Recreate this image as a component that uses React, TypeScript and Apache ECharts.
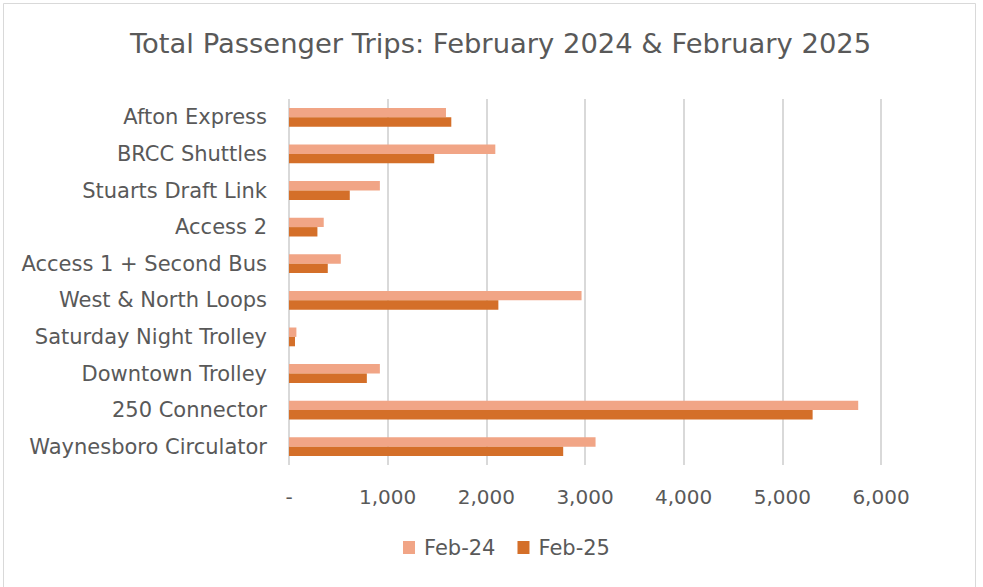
import React, { useEffect, useRef } from "react";
import * as echarts from "echarts";

const categories = [
  "Afton Express",
  "BRCC Shuttles",
  "Stuarts Draft Link",
  "Access 2",
  "Access 1 + Second Bus",
  "West & North Loops",
  "Saturday Night Trolley",
  "Downtown Trolley",
  "250 Connector",
  "Waynesboro Circulator",
];
const feb24 = [1591, 2091, 921, 352, 525, 2965, 75, 921, 5769, 3107];
const feb25 = [1645, 1472, 616, 288, 393, 2122, 61, 789, 5307, 2779];
const seriesNames = ["Feb-24", "Feb-25"];

export default function App() {
  const ref = useRef<HTMLDivElement>(null);
  useEffect(() => {
    if (!ref.current) return;
    const chart = echarts.init(ref.current, null, { renderer: "svg" });
    const font = "'DejaVu Sans', sans-serif";
    chart.setOption({
      animation: false,
      backgroundColor: "#ffffff",
      title: {
        text: "Total Passenger Trips: February 2024 & February 2025",
        left: 125,
        top: 25,
        textStyle: { color: "#595959", fontSize: 27.4, fontWeight: "normal", fontFamily: font },
      },
      graphic: [
        {
          type: "rect",
          shape: { x: 3.5, y: 3.5, width: 972, height: 590 },
          style: { fill: "none", stroke: "#d9d9d9", lineWidth: 1 },
          silent: true,
        },
      ],
      legend: {
        data: seriesNames,
        bottom: 24,
        left: 398,
        itemWidth: 12,
        itemHeight: 13,
        itemGap: 22,
        icon: "rect",
        textStyle: { color: "#595959", fontSize: 21, fontFamily: font, padding: [0, 0, 0, 4] },
      },
      grid: { left: 289, right: 102, top: 99, bottom: 122, containLabel: false },
      xAxis: {
        type: "value",
        min: 0,
        max: 6000,
        interval: 1000,
        axisLine: { show: false },
        axisTick: { show: false },
        splitLine: { lineStyle: { color: "#d9d9d9", width: 2 } },
        axisLabel: {
          color: "#595959",
          fontSize: 20,
          fontFamily: font,
          margin: 22,
          formatter: (v: number) => (v === 0 ? "-" : v.toLocaleString("en-US")),
        },
      },
      yAxis: {
        type: "category",
        inverse: true,
        data: categories,
        axisLine: { show: false },
        axisTick: { show: false },
        axisLabel: { color: "#595959", fontSize: 21, fontFamily: font, margin: 22 },
      },
      series: [
        {
          name: seriesNames[0],
          type: "bar",
          data: feb24,
          barWidth: 9.4,
          barGap: "0%",
          itemStyle: { color: "#F1A586" },
        },
        {
          name: seriesNames[1],
          type: "bar",
          data: feb25,
          barWidth: 9.4,
          barGap: "0%",
          itemStyle: { color: "#D46F29" },
        },
      ],
    });
    return () => chart.dispose();
  }, []);
  return (
    <div
      ref={ref}
      style={{ position: "fixed", left: 0, top: 0, width: 983, height: 587 }}
    />
  );
}
